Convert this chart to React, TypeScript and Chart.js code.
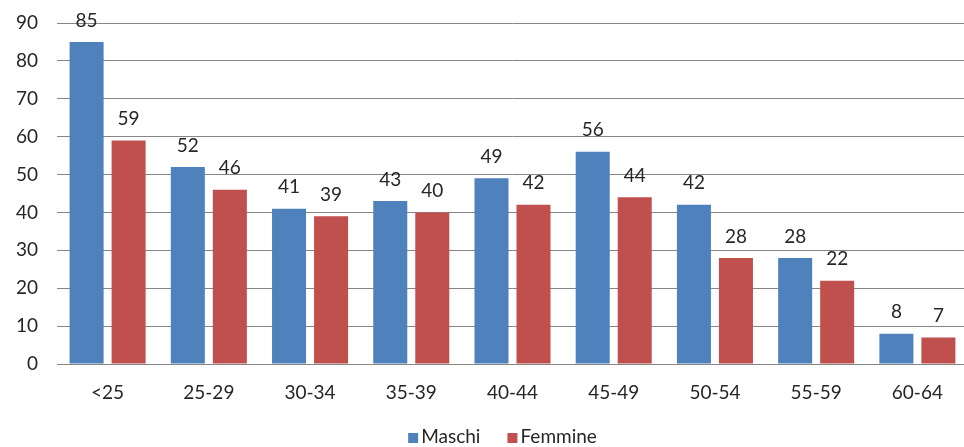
import React, { useEffect, useRef } from "react";
import { Chart, registerables } from "chart.js";

Chart.register(...registerables);

const categories = ["<25", "25-29", "30-34", "35-39", "40-44", "45-49", "50-54", "55-59", "60-64"];
const maschi = [85, 52, 41, 43, 49, 56, 42, 28, 8];
const femmine = [59, 46, 39, 40, 42, 44, 28, 22, 7];
const yTicks = [0, 10, 20, 30, 40, 50, 60, 70, 80, 90];

const FONT = "Lato, 'Open Sans', sans-serif";
const TEXT = "#262626";

const valueLabels = {
  id: "valueLabels",
  afterDatasetsDraw(chart: any) {
    const ctx = chart.ctx;
    ctx.save();
    ctx.font = `19px ${FONT}`;
    ctx.fillStyle = TEXT;
    ctx.textAlign = "center";
    ctx.textBaseline = "bottom";
    chart.data.datasets.forEach((ds: any, i: number) => {
      const meta = chart.getDatasetMeta(i);
      meta.data.forEach((bar: any, j: number) => {
        ctx.fillText(String(ds.data[j]), bar.x, bar.y - 12);
      });
    });
    ctx.restore();
  },
};

const bottomLegend = {
  id: "bottomLegend",
  afterDraw(chart: any) {
    const ctx = chart.ctx;
    const box = 10;
    const gap = 3;
    const spacing = 27;
    ctx.save();
    ctx.font = `19px ${FONT}`;
    const items = chart.data.datasets.map((ds: any) => ({
      label: ds.label,
      color: ds.backgroundColor,
      w: box + gap + ctx.measureText(ds.label).width,
    }));
    const total = items.reduce((a: number, it: any) => a + it.w, 0) + spacing * (items.length - 1);
    const area = chart.chartArea;
    let x = (area.left + area.right) / 2 - 10 - total / 2;
    const y = chart.height - 10;
    ctx.textBaseline = "middle";
    ctx.textAlign = "left";
    items.forEach((it: any) => {
      ctx.fillStyle = it.color;
      ctx.fillRect(x, y - box / 2 + 1, box, box);
      ctx.fillStyle = TEXT;
      ctx.fillText(it.label, x + box + gap, y);
      x += it.w + spacing;
    });
    ctx.restore();
  },
};

export default function App() {
  const ref = useRef<HTMLCanvasElement | null>(null);
  useEffect(() => {
    document.body.style.margin = "0";
    const chart = new Chart(ref.current!, {
      type: "bar",
      data: {
        labels: categories,
        datasets: [
          { label: "Maschi", data: maschi, backgroundColor: "#4F81BD" },
          { label: "Femmine", data: femmine, backgroundColor: "#C0504D" },
        ],
      },
      options: {
        animation: false,
        responsive: false,
        maintainAspectRatio: false,
        layout: { padding: { top: 23, right: 0, bottom: 0, left: 0 } },
        datasets: { bar: { categoryPercentage: 0.83, barPercentage: 0.81 } },
        scales: {
          x: {
            grid: { display: false, drawTicks: false },
            border: { display: true, color: "#868686" },
            ticks: { color: TEXT, font: { family: FONT, size: 19 }, padding: 17 },
            afterFit: (s: any) => {
              s.height = 83;
              s.paddingLeft = 0;
              s.paddingRight = 0;
            },
          },
          y: {
            min: 0,
            max: 90,
            afterBuildTicks: (s: any) => { s.ticks = yTicks.map((v) => ({ value: v })); },
            grid: { color: "#868686", drawTicks: false },
            border: { display: false },
            ticks: { color: TEXT, font: { family: FONT, size: 19 }, padding: 19 },
            afterFit: (s: any) => {
              s.width = 57;
              s.paddingTop = 0;
              s.paddingBottom = 0;
            },
          },
        },
        plugins: {
          legend: { display: false },
          tooltip: { enabled: false },
        },
      },
      plugins: [valueLabels, bottomLegend],
    });
    return () => chart.destroy();
  }, []);
  return (
    <div style={{ width: 964, height: 447, overflow: "hidden" }}>
      <canvas ref={ref} width={968} height={447} style={{ display: "block" }} />
    </div>
  );
}
